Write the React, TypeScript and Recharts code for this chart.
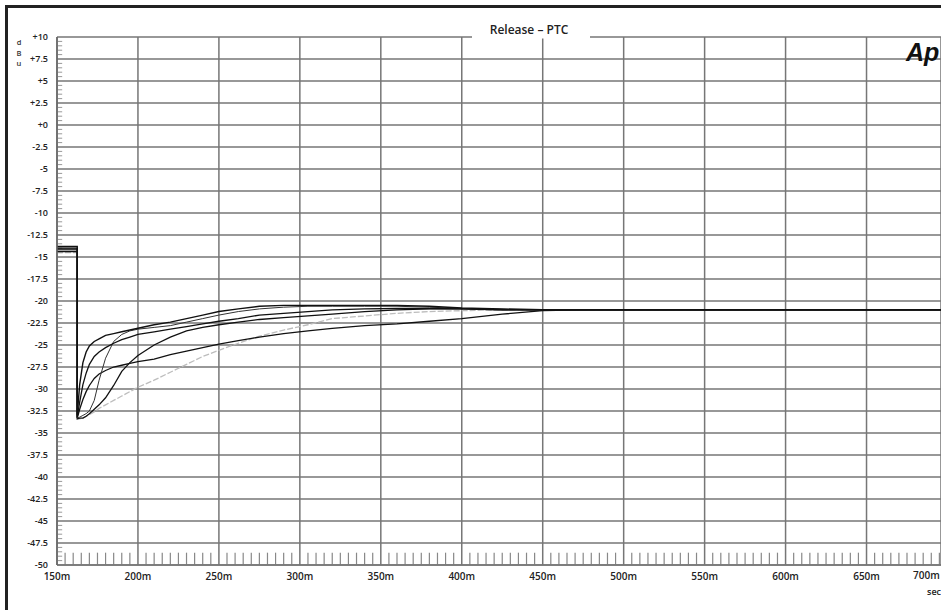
import React from 'react';
import { LineChart, Line, XAxis, YAxis, CartesianGrid, ReferenceLine } from 'recharts';

// time axis in milliseconds (duplicate 162.5 = the step)
const timesMs = [150, 162.5, 162.5, 164, 166, 168, 170, 173, 176, 180, 185, 190, 195, 200, 210, 220, 230, 240, 250, 262, 275, 290, 305, 320, 340, 360, 380, 400, 425, 450, 475, 500, 550, 600, 650, 700];

const curveA = [-13.8, -13.8, -33.0, -29.5, -27.0, -25.8, -25.1, -24.6, -24.3, -23.9, -23.7, -23.5, -23.3, -23.1, -22.7, -22.4, -22.0, -21.6, -21.2, -20.9, -20.6, -20.5, -20.5, -20.5, -20.5, -20.5, -20.6, -20.8, -20.9, -21.0, -21.0, -21.0, -21.0, -21.0, -21.0, -21.0];
const curveB = [-14.0, -14.0, -33.2, -31.5, -29.5, -28.2, -27.2, -26.3, -25.8, -25.3, -24.8, -24.4, -24.1, -23.8, -23.5, -23.2, -22.9, -22.6, -22.3, -22.0, -21.6, -21.4, -21.2, -21.0, -20.9, -20.85, -20.85, -20.9, -21.0, -21.0, -21.0, -21.0, -21.0, -21.0, -21.0, -21.0];
const curveC = [-14.2, -14.2, -33.3, -33.2, -33.0, -32.8, -32.5, -31.3, -29.0, -26.5, -24.6, -23.8, -23.4, -23.2, -23.0, -22.8, -22.4, -22.0, -21.6, -21.2, -20.9, -20.7, -20.6, -20.6, -20.6, -20.6, -20.7, -20.85, -20.95, -21.0, -21.0, -21.0, -21.0, -21.0, -21.0, -21.0];
const curveD = [-14.4, -14.4, -33.4, -33.3, -33.3, -33.1, -32.8, -32.3, -31.8, -31.0, -29.6, -28.0, -27.0, -26.2, -25.0, -24.1, -23.4, -23.0, -22.7, -22.4, -22.1, -21.9, -21.7, -21.5, -21.2, -21.0, -20.9, -20.9, -21.0, -21.0, -21.0, -21.0, -21.0, -21.0, -21.0, -21.0];
const curveE = [-14.1, -14.1, -33.3, -32.3, -31.2, -30.3, -29.6, -28.8, -28.3, -27.9, -27.5, -27.3, -27.1, -26.9, -26.6, -26.1, -25.7, -25.3, -24.9, -24.5, -24.1, -23.7, -23.4, -23.1, -22.8, -22.6, -22.3, -22.0, -21.5, -21.1, -21.0, -21.0, -21.0, -21.0, -21.0, -21.0];
const curveF = [-14.5, -14.5, -33.4, -33.4, -33.3, -33.1, -32.9, -32.6, -32.2, -31.8, -31.3, -30.8, -30.3, -29.8, -29.0, -28.1, -27.2, -26.3, -25.6, -24.8, -24.0, -23.3, -22.7, -22.0, -21.7, -21.4, -21.2, -21.1, -21.0, -21.0, -21.0, -21.0, -21.0, -21.0, -21.0, -21.0];

const xTicks = [150, 200, 250, 300, 350, 400, 450, 500, 550, 600, 650];
const yTicks = [10, 7.5, 5, 2.5, 0, -2.5, -5, -7.5, -10, -12.5, -15, -17.5, -20, -22.5, -25, -27.5, -30, -32.5, -35, -37.5, -40, -42.5, -45, -47.5, -50];
const xMinorTicks = Array.from({ length: 110 }, (_, i) => 150 + i * 5).filter((v) => v % 50 !== 0);
const yMinorTicks = Array.from({ length: 121 }, (_, i) => -50 + i * 0.5).filter((v) => Math.abs(v % 2.5) > 0.01);

const fmtY = (v: number) => (v > 0 ? `+${v}` : v === 0 ? '+0' : `${v}`);

const XTick = (props: any) => {
  const { x, y, payload } = props;
  return (
    <text x={x} y={y + 7} textAnchor="middle" fontFamily="Open Sans" fontSize={10} fontWeight={600} fill="#222">
      {`${payload.value}m`}
    </text>
  );
};

const YTick = (props: any) => {
  const { x, y, payload } = props;
  return (
    <text x={x - 1} y={y + 3} textAnchor="end" fontFamily="Open Sans" fontSize={9} fontWeight={600} fill="#222">
      {fmtY(payload.value)}
    </text>
  );
};

const App = () => {
  const data = timesMs.map((t, i) => ({
    t,
    a: curveA[i],
    b: curveB[i],
    c: curveC[i],
    d: curveD[i],
    e: curveE[i],
    f: curveF[i],
  }));
  const dark = '#111';
  return (
    <div style={{ position: 'absolute', left: 0, top: 0, width: 941, height: 610, background: '#fff', overflow: 'hidden' }}>
      <LineChart width={941} height={610} data={data} margin={{ top: 37, right: 0, left: 0, bottom: 0 }}>
        <CartesianGrid stroke="#767676" strokeWidth={1.5} />
        <XAxis
          dataKey="t"
          type="number"
          domain={[150, 696]}
          allowDataOverflow
          ticks={xTicks}
          interval={0}
          tick={<XTick />}
          tickLine={false}
          axisLine={{ stroke: '#767676', strokeWidth: 1.5 }}
          height={45}
        />
        <YAxis
          type="number"
          domain={[-50, 10]}
          ticks={yTicks}
          interval={0}
          tick={<YTick />}
          tickLine={false}
          axisLine={{ stroke: '#666', strokeWidth: 1.5 }}
          width={57}
        />
        {xMinorTicks.map((v) => (
          <ReferenceLine key={`xm${v}`} segment={[{ x: v, y: -50 }, { x: v, y: -48.6 }]} stroke="#888" strokeWidth={1.2} />
        ))}
        {yMinorTicks.map((v) => (
          <ReferenceLine key={`ym${v}`} segment={[{ x: 150, y: v }, { x: 153.2, y: v }]} stroke="#999" strokeWidth={1} />
        ))}
        <Line type="linear" dataKey="f" stroke="#bdbdbd" strokeWidth={1.3} strokeDasharray="6 2" dot={false} isAnimationActive={false} />
        <Line type="linear" dataKey="e" stroke={dark} strokeWidth={1.3} dot={false} isAnimationActive={false} />
        <Line type="linear" dataKey="d" stroke={dark} strokeWidth={1.3} dot={false} isAnimationActive={false} />
        <Line type="linear" dataKey="c" stroke="#333" strokeWidth={1} dot={false} isAnimationActive={false} />
        <Line type="linear" dataKey="b" stroke={dark} strokeWidth={1.3} dot={false} isAnimationActive={false} />
        <Line type="linear" dataKey="a" stroke={dark} strokeWidth={1.4} dot={false} isAnimationActive={false} />
      </LineChart>
      <svg width={941} height={610} style={{ position: 'absolute', left: 0, top: 0, pointerEvents: 'none' }}>
        <path d="M6.5,615 L6.5,6.5 L945,6.5" stroke="#222" strokeWidth={3} fill="none" />
        <rect x={472} y={20} width={118} height={18.5} fill="#fff" />
        <text x={529} y={34} textAnchor="middle" fontFamily="Open Sans" fontSize={12} fontWeight={600} fill="#222">
          Release – PTC
        </text>
        <text x={906} y={61} fontFamily="Liberation Sans" fontSize={25} fontWeight={700} fontStyle="italic" fill="#111">
          Ap
        </text>
        <text x={19} y={45} textAnchor="middle" fontFamily="Open Sans" fontSize={7.5} fontWeight={600} fill="#333">d</text>
        <text x={19} y={55.5} textAnchor="middle" fontFamily="Open Sans" fontSize={7.5} fontWeight={600} fill="#333">B</text>
        <text x={19} y={66} textAnchor="middle" fontFamily="Open Sans" fontSize={7.5} fontWeight={600} fill="#333">u</text>
        <text x={913} y={579} fontFamily="Open Sans" fontSize={10} fontWeight={600} fill="#222">700m</text>
        <text x={927} y={595} fontFamily="Open Sans" fontSize={9} fontWeight={600} fill="#222">sec</text>
      </svg>
    </div>
  );
};

export default App;
